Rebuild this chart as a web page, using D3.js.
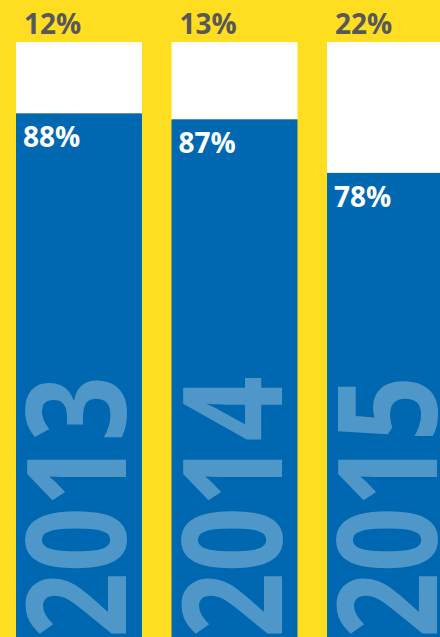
<!DOCTYPE html>
<html>
<head>
<meta charset="utf-8">
<script src="https://cdn.jsdelivr.net/npm/d3@7"></script>
<style>
  html, body { margin: 0; padding: 0; background: #FFDE21; overflow: hidden; }
  svg { display: block; }
</style>
</head>
<body>
<svg id="chart" width="440" height="637"></svg>
<script>
const years = ["2013", "2014", "2015"];
const yesValues = [88, 87, 78];
const noValues = [12, 13, 22];

const W = 440, H = 637;
const svg = d3.select("#chart");

svg.append("rect").attr("width", W).attr("height", H).attr("fill", "#FFDE21");

const x = d3.scaleBand().domain(years).range([16, 453]).paddingInner(0.19).paddingOuter(0);
const y = d3.scaleLinear().domain([0, 100]).range([637, 42]);

const data = years.map((yr, i) => ({ year: yr, yes: yesValues[i], no: noValues[i] }));

const g = svg.selectAll("g.bar").data(data).join("g").attr("class", "bar");

// white (top) part
g.append("rect")
  .attr("x", d => x(d.year))
  .attr("width", x.bandwidth())
  .attr("y", d => y(100))
  .attr("height", d => y(d.yes) - y(100))
  .attr("fill", "#FFFFFF");

// blue (bottom) part
g.append("rect")
  .attr("x", d => x(d.year))
  .attr("width", x.bandwidth())
  .attr("y", d => y(d.yes))
  .attr("height", d => y(0) - y(d.yes))
  .attr("fill", "#0067B1");

// year text rotated
g.append("text")
  .attr("transform", d => `translate(${x(d.year) + 110},${y(0) + 1}) rotate(-90)`)
  .attr("font-family", "'Open Sans', sans-serif")
  .attr("font-weight", 700)
  .attr("font-size", 138)
  .attr("textLength", 262)
  .attr("lengthAdjust", "spacingAndGlyphs")
  .attr("fill", "#4F96C9")
  .text(d => d.year);

// top labels (no share)
g.append("text")
  .attr("x", d => x(d.year) + 8)
  .attr("y", 34)
  .attr("font-family", "'Open Sans', sans-serif")
  .attr("font-weight", 700)
  .attr("font-size", 28)
  .attr("fill", "#58585A")
  .text(d => d.no + "%");

// inside labels (yes share)
g.append("text")
  .attr("x", d => x(d.year) + 7)
  .attr("y", d => y(d.yes) + 34)
  .attr("font-family", "'Open Sans', sans-serif")
  .attr("font-weight", 700)
  .attr("font-size", 28)
  .attr("fill", "#FFFFFF")
  .text(d => d.yes + "%");
</script>
</body>
</html>
